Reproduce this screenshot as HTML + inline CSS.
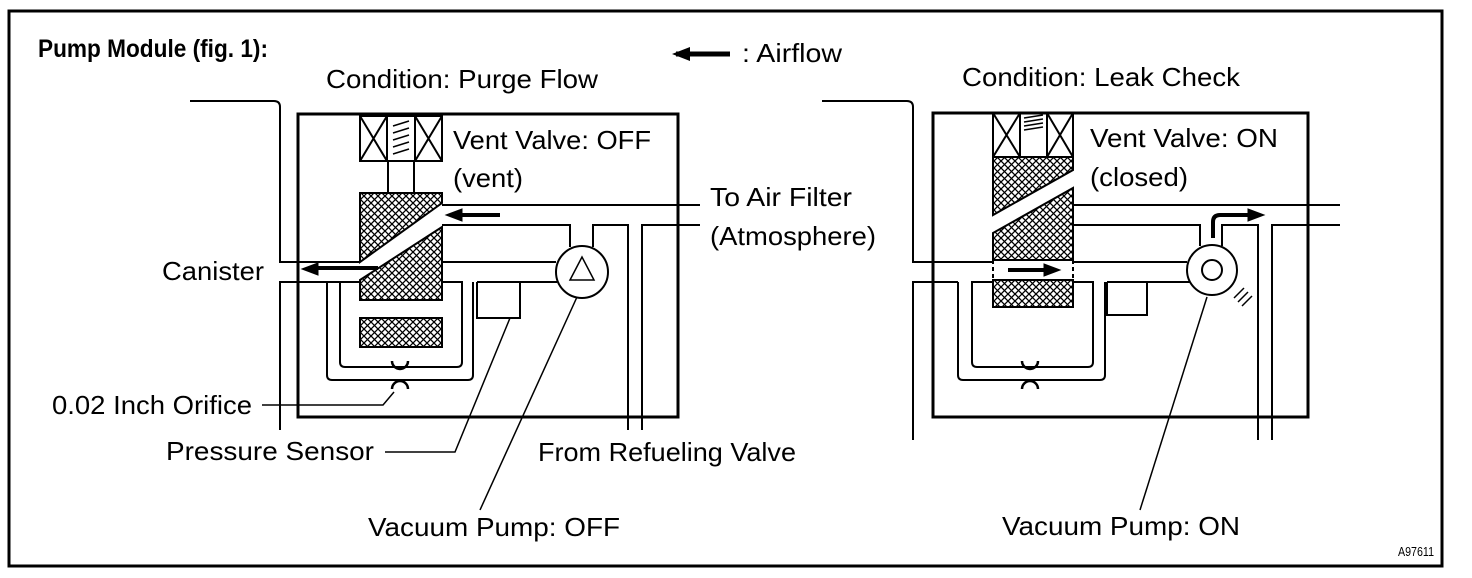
<!DOCTYPE html>
<html><head><meta charset="utf-8"><style>
html,body{margin:0;padding:0;background:#fff;}
svg{display:block;}
text{font-family:"Liberation Sans",Arial,sans-serif;font-size:26px;fill:#000;}
</style></head><body>
<svg width="1472" height="578" viewBox="0 0 1472 578" xmlns="http://www.w3.org/2000/svg">
<defs>
<pattern id="h" width="7" height="7" patternUnits="userSpaceOnUse">
<rect width="7" height="7" fill="#fff"/>
<path d="M0 0L7 7M7 0L0 7" stroke="#000" stroke-width="1.3"/>
</pattern>
</defs>
<rect x="9" y="11" width="1433" height="555" fill="none" stroke="#000" stroke-width="3"/>
<text x="38" y="57" font-weight="bold" textLength="230" lengthAdjust="spacingAndGlyphs" style="font-size:25px">Pump Module (fig. 1):</text>
<path d="M676 54H730" stroke="#000" stroke-width="5"/>
<path d="M672 54L690 47V61Z" fill="#000"/>
<text x="742" y="62" textLength="100" lengthAdjust="spacingAndGlyphs">: Airflow</text>
<text x="326" y="88" textLength="272" lengthAdjust="spacingAndGlyphs">Condition: Purge Flow</text>
<text x="962" y="86" textLength="278" lengthAdjust="spacingAndGlyphs">Condition: Leak Check</text>

<g fill="none" stroke="#000" stroke-width="2">
<rect x="298" y="114" width="380" height="303" stroke-width="3"/>
<path d="M190 101H274Q280 101 280 107V262H360"/>
<path d="M280 430V282H360"/>
<rect x="360" y="116" width="27" height="45"/><rect x="387" y="116" width="28" height="45"/><rect x="415" y="116" width="27" height="45"/>
<path d="M360 116L387 161M387 116L360 161M415 116L442 161M442 116L415 161"/>
<path d="M393 126L409 121M393 133L409 128M393 140L409 135M393 147L409 142M393 154L409 149" stroke-width="1.5"/>
<rect x="388" y="161" width="26" height="32"/>
<path d="M360 193H442V203L360 262Z" fill="url(#h)"/>
<path d="M360 280L442 227V300H360Z" fill="url(#h)"/>
<rect x="360" y="318" width="82" height="29" fill="url(#h)"/>
<path d="M442 205H700M442 225H570V247M593 247V225H628V430M642 430V225H700"/>
<path d="M442 262H556M477 282H557M477 282V318H520V282"/>
<circle cx="582" cy="272" r="26"/>
<path d="M582 257L570 280H594Z" stroke-width="1.5"/>
<path d="M442 282H462V362Q462 367 457 367H345Q340 367 340 362V282H360"/>
<path d="M473 282V375Q473 380 468 380H332Q327 380 327 375V282"/>
<path d="M392 361A8 8 0 0 0 408 361M392 389A8 8 0 0 1 408 389" stroke-width="2.5"/>
<path d="M262 405H383L394 392" stroke-width="1.5"/>
<path d="M385 452H455L510 318" stroke-width="1.5"/>
<path d="M480 510L577 297" stroke-width="1.5"/>
<rect x="933" y="113" width="375" height="304" stroke-width="3"/>
<path d="M822 101H907Q913 101 913 107V262H993"/>
<path d="M913 440V282H958"/>
<rect x="993" y="113" width="27" height="44"/><rect x="1020" y="113" width="27" height="44"/><rect x="1047" y="113" width="26" height="44"/>
<path d="M993 113L1020 157M1020 113L993 157M1047 113L1073 157M1073 113L1047 157"/>
<path d="M1024 118L1043 115M1024 122L1043 119M1024 126L1043 123M1024 130L1043 127" stroke-width="1.5"/>
<path d="M993 157H1073V170L993 215Z" fill="url(#h)"/>
<path d="M993 233L1073 188V260H993Z" fill="url(#h)"/>
<rect x="993" y="280" width="80" height="27" fill="url(#h)"/>
<path d="M993 260V280M1073 260V280" stroke-dasharray="4 3"/>
<path d="M1073 205H1340M1073 225H1200V246M1222 246V225H1258V440M1272 440V225H1340"/>
<path d="M1073 262H1187M1107 282H1190M1107 282V315H1147V282"/>
<circle cx="1212" cy="270" r="25"/>
<circle cx="1212" cy="270" r="10"/>
<path d="M1234 298L1244 288M1238 302L1248 292M1242 306L1252 296" stroke-width="1.5"/>
<path d="M1073 282H1093V362Q1093 367 1088 367H977Q972 367 972 362V282H993"/>
<path d="M1105 282V375Q1105 380 1100 380H963Q958 380 958 375V282"/>
<path d="M1022 361A8 8 0 0 0 1038 361M1022 389A8 8 0 0 1 1038 389" stroke-width="2.5"/>
<path d="M1140 510L1207 297" stroke-width="1.5"/>
</g>
<g fill="#000" stroke="#000">
<path d="M500 215H458" stroke-width="4"/><path d="M446 215L462 209V221Z"/>
<path d="M378 268H318" stroke-width="4"/><path d="M302 269L318 263V275Z"/>
<path d="M1008 270H1046" stroke-width="4"/><path d="M1060 270L1044 264V276Z"/>
<path d="M1213 238V222Q1213 215 1220 215H1248" stroke-width="4" fill="none"/><path d="M1264 215L1248 209V221Z"/>
</g>
<text x="453" y="149" textLength="198" lengthAdjust="spacingAndGlyphs">Vent Valve: OFF</text>
<text x="453" y="187" textLength="70" lengthAdjust="spacingAndGlyphs">(vent)</text>
<text x="710" y="206" textLength="142" lengthAdjust="spacingAndGlyphs">To Air Filter</text>
<text x="710" y="245" textLength="166" lengthAdjust="spacingAndGlyphs">(Atmosphere)</text>
<text x="162" y="280" textLength="102" lengthAdjust="spacingAndGlyphs">Canister</text>
<text x="52" y="414" textLength="200" lengthAdjust="spacingAndGlyphs">0.02 Inch Orifice</text>
<text x="166" y="460" textLength="208" lengthAdjust="spacingAndGlyphs">Pressure Sensor</text>
<text x="538" y="461" textLength="258" lengthAdjust="spacingAndGlyphs">From Refueling Valve</text>
<text x="368" y="536" textLength="252" lengthAdjust="spacingAndGlyphs">Vacuum Pump: OFF</text>
<text x="1090" y="147" textLength="188" lengthAdjust="spacingAndGlyphs">Vent Valve: ON</text>
<text x="1090" y="186" textLength="98" lengthAdjust="spacingAndGlyphs">(closed)</text>
<text x="1002" y="535" textLength="238" lengthAdjust="spacingAndGlyphs">Vacuum Pump: ON</text>
<text x="1398" y="556" textLength="36" lengthAdjust="spacingAndGlyphs" style="font-size:13px">A97611</text>
</svg>
</body></html>
